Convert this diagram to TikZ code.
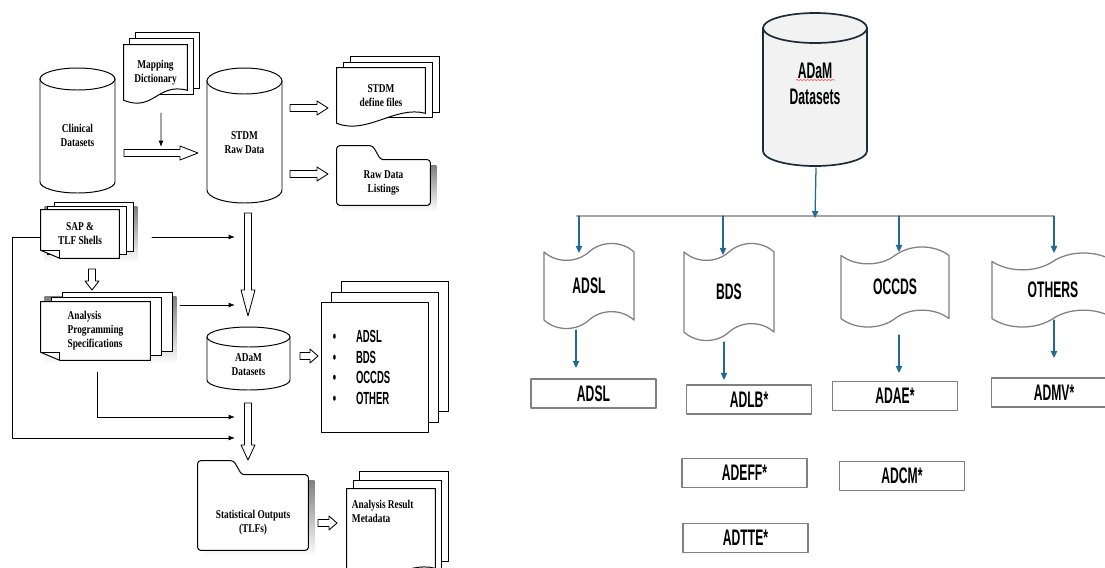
\documentclass[tikz,border=0pt]{standalone}
\usepackage{fontspec}
\setmainfont{Liberation Serif}
\newfontfamily\serifnarrow[FakeStretch=0.78]{Liberation Serif}
\newfontfamily\sansnarrow[FakeStretch=0.54]{Liberation Sans}
\usepackage{tikz}
\usetikzlibrary{arrows.meta,positioning,calc,backgrounds,shapes.symbols,decorations.pathmorphing}
\definecolor{linkblue}{HTML}{236A93}
\definecolor{busgray}{HTML}{A6A6A6}
\definecolor{framegray}{HTML}{808080}
\definecolor{drumfill}{HTML}{F2F2F2}
\definecolor{drumline}{HTML}{1C2B39}
\definecolor{shade}{HTML}{5A5A5A}
\tikzset{
    every picture/.style={line cap=round,line join=round},
    oldtext/.style={font=\serifnarrow\bfseries\fontsize{8.5}{10}\selectfont,align=center},
    newtext/.style={font=\sansnarrow\bfseries\fontsize{16}{19}\selectfont,align=center},
    listtext/.style={font=\sansnarrow\bfseries\fontsize{12.5}{14.5}\selectfont,align=left},
    oldline/.style={draw=black,line width=0.7pt},
    docpage/.style={inner sep=0,oldtext},
    fatline/.style={draw=black,line width=0.6pt,fill=white},
    flowarrow/.style={-{Latex[length=4.5pt,width=3.5pt]},draw=black,line width=0.7pt},
    newdrum/.style={draw=drumline,fill=drumfill,line width=1.2pt},
    tapebox/.style={tape,draw=framegray,fill=white,line width=0.9pt,inner sep=0,
      tape bend top=in and out,tape bend bottom=in and out,tape bend height=12pt,newtext},
    setbox/.style={draw=framegray,line width=1.1pt,fill=white,minimum width=3.125cm,
      minimum height=0.725cm,inner sep=0,newtext},
    linkarrow/.style={-{Triangle[length=5pt,width=4.5pt]},draw=linkblue,line width=0.9pt},
    busline/.style={draw=busgray,line width=1.5pt},
    spellmark/.style={draw=red!60,line width=0.5pt,decorate,
      decoration={snake,amplitude=0.5pt,segment length=2.5pt}}
}
% cylinder round a node: rx, ry, top and bottom offsets from its centre (px)
\newcommand\drumshape[6][oldline,fill=white]{%
  \draw[#1] ([shift={({-#3},{#5+#4})}]#2.center) -- ([shift={({-#3},{#6-#4})}]#2.center)
    arc[start angle=180,end angle=360,x radius=#3*0.025cm,y radius=#4*0.025cm]
    -- ([shift={(#3,{#5+#4})}]#2.center) -- cycle;
  \draw[#1] ([shift={(0,{#5+#4})}]#2.center) ellipse[x radius=#3*0.025cm,y radius=#4*0.025cm];}
% pages behind a node, shifted right by #2 and up by #3
\newcommand\pagestack[3]{%
  \foreach \k in {2,1}
    \draw[oldline,fill=white] ([shift={({\k*#2},{-\k*#3})}]#1.south west)
      rectangle ([shift={({\k*#2},{-\k*#3})}]#1.north east);}
\newcommand\wavefront[1]{%
  \draw[oldline,fill=white] (#1.south west) -- (#1.north west) -- (#1.north east)
    -- ([shift={(0,-10)}]#1.south east)
    .. controls ([shift={(-30,-18)}]#1.south east) and ([shift={(30,12)}]#1.south west) .. (#1.south west) -- cycle;}
\newcommand\earfront[1]{%
  \draw[oldline,fill=white] (#1.north west) -- (#1.north east) -- (#1.south east)
    -- ([shift={(19,0)}]#1.south west) -- ([shift={(0,-8)}]#1.south west) -- cycle;
  \draw[oldline] ([shift={(0,-8)}]#1.south west) -- ([shift={(19,-8)}]#1.south west)
    -- ([shift={(19,0)}]#1.south west);}
\newcommand\stackshadow[3]{%
  \fill[shade] ([shift={(4,4)}]#1.south west) rectangle ([shift={({2*#2+4},{-2*#3+4})}]#1.north east);}
\newcommand\folder[1]{%
  \fill[shade] ([shift={(6,6)}]#1.south west) rectangle ([shift={(6,6)}]#1.north east);
  \draw[oldline,fill=white,rounded corners=2pt] (#1.south west) -- ([shift={(0,-14)}]#1.north west)
    -- ([shift={(36,-14)}]#1.north west) -- ([shift={(44,0)}]#1.north west)
    -- (#1.north east) -- (#1.south east) -- cycle;}
% hollow block arrows
\newcommand\fatright[3]{%
  \coordinate (fa) at #1; \coordinate (fb) at #2;
  \draw[fatline] ([shift={(0,-3.5)}]fa) -- ([shift={(-#3,-3.5)}]fb) -- ([shift={(-#3,-7)}]fb) -- (fb)
    -- ([shift={(-#3,7)}]fb) -- ([shift={(-#3,3.5)}]fb) -- ([shift={(0,3.5)}]fa) -- cycle;}
\newcommand\fatdown[3]{%
  \coordinate (fa) at #1; \coordinate (fb) at #2;
  \draw[fatline] ([shift={(-3.5,0)}]fa) -- ([shift={(-3.5,-#3)}]fb) -- ([shift={(-7,-#3)}]fb) -- (fb)
    -- ([shift={(7,-#3)}]fb) -- ([shift={(3.5,-#3)}]fb) -- ([shift={(3.5,0)}]fa) -- cycle;}

\begin{document}
\begin{tikzpicture}[x=0.025cm,y=-0.025cm]
  \useasboundingbox (0,0) rectangle (1105,567);
  % flow from clinical data to outputs
  \node[docpage,minimum width=1.875cm] (clin) at (77.5,135) {Clinical\\Datasets};
  \node[docpage,minimum width=1.575cm,minimum height=1.375cm] (map) at (155.5,72.5) {Mapping\\Dictionary};
  \node[docpage,minimum width=1.875cm] (stdm) at (244.5,143) {STDM\\Raw Data};
  \node[docpage,minimum width=2.2cm,minimum height=1.375cm] (def) at (381,95.5) {STDM\\define files};
  \node[docpage,minimum width=2.325cm,minimum height=1.125cm] (rdl) at (383.5,182.5) {Raw Data\\Listings};
  \node[docpage,minimum width=1.95cm,minimum height=1.2cm] (sap) at (80,234) {SAP \&\\TLF Shells};
  \node[docpage,minimum width=2.725cm,minimum height=1.45cm,align=left] (aps) at (95.5,331) {Analysis\\Programming\\Specifications};
  \node[docpage,minimum width=2.075cm] (adam) at (248.5,365) {ADaM\\Datasets};
  \node[docpage,oldline,fill=white,listtext,text width=2.1cm,inner xsep=0.275cm,minimum height=3.225cm] (lst) at (375,367.5)
    {\textbullet\hspace{14pt}ADSL\\\textbullet\hspace{14pt}BDS\\\textbullet\hspace{14pt}OCCDS\\\textbullet\hspace{14pt}OTHER};
  \node[docpage,minimum width=2.75cm,minimum height=1.875cm] (tlf) at (253,512.5) {\rule{0pt}{20pt}Statistical Outputs\\(TLFs)};
  \node[docpage,minimum width=2.2cm,minimum height=2.225cm] (arm) at (391,533.5) {};
  \node[oldtext,align=left,anchor=north west,inner sep=0] (armtext) at ([shift={(5,11)}]arm.north west) {Analysis Result\\Metadata};
  \begin{scope}[on background layer]
    \drumshape{clin}{37.5}{11}{-67}{58}
    \drumshape{stdm}{37.5}{13}{-75}{60}
    \drumshape{adam}{41.5}{10}{-38}{25}
    \pagestack{map}{6}{6}\wavefront{map}
    \pagestack{def}{7}{5.5}\wavefront{def}
    \folder{rdl}
    \stackshadow{sap}{7}{3.5}\pagestack{sap}{7}{3.5}\earfront{sap}
    \stackshadow{aps}{11}{4.5}\pagestack{aps}{11}{4.5}\earfront{aps}
    \pagestack{lst}{10}{10.5}
    \folder{tlf}
    \pagestack{arm}{6.5}{8.5}\wavefront{arm}
  \end{scope}
  \coordinate (join) at ([shift={(-83.5,10)}]stdm.center);
  \fatright{([shift={(46.5,18)}]clin.center)}{([shift={(-46.5,10)}]stdm.center)}{18}
  \draw[flowarrow] ([shift={(5.5,40.5)}]map.center) -- ([shift={(0,-6)}]join);
  \fatright{([shift={(45.5,-35)}]stdm.center)}{([shift={(-53,12.5)}]def.center)}{11}
  \fatright{([shift={(45.5,31)}]stdm.center)}{([shift={(-55.5,-8.5)}]rdl.center)}{11}
  \fatdown{([shift={(3.5,70)}]stdm.center)}{([shift={(-0.5,-49)}]adam.center)}{26}
  \fatdown{([shift={(12,35)}]sap.center)}{([shift={(-3.5,-41)}]aps.center)}{9}
  \draw[flowarrow] ([shift={(72,3)}]sap.center) -- ([shift={(-13.5,-128)}]adam.center);
  \draw[flowarrow] ([shift={(84.5,-26)}]aps.center) -- ([shift={(-13.5,-60)}]adam.center);
  \draw[flowarrow] ([shift={(1.5,41)}]aps.center) |- ([shift={(-13.5,52)}]adam.center);
  \draw[flowarrow] ([shift={(0,3)}]sap.west) -- ++(-28,0) |- ([shift={(-13.5,73)}]adam.center);
  \fatdown{([shift={(-0.5,38)}]adam.center)}{([shift={(-5,-52.5)}]tlf.center)}{15}
  \fatright{([shift={(51.5,-9)}]adam.center)}{([shift={(-57,-11.5)}]lst.center)}{8}
  \fatright{([shift={(65,10.5)}]tlf.center)}{([shift={(-54,-10.5)}]arm.center)}{8}

  % ADaM dataset classes
  \node[newtext,inner sep=0,minimum width=2.6cm] (adamR) at (815,84) {ADaM\\Datasets};
  \begin{scope}[on background layer]
    \drumshape[newdrum]{adamR}{52}{15}{-71}{82}
  \end{scope}
  \draw[spellmark] ([shift={(-19,-4)}]adamR.center) -- ([shift={(20,-4)}]adamR.center);
  \node[tapebox,minimum width=2.25cm,minimum height=2.125cm] (adsl) at (589,286) {ADSL};
  \node[tapebox,minimum width=2.25cm,minimum height=2.425cm] (bds) at (729,292) {BDS};
  \node[tapebox,minimum width=2.7cm,minimum height=2cm] (occds) at (895,287) {OCCDS};
  \node[tapebox,minimum width=3.05cm,minimum height=1.85cm] (others) at (1053,290) {OTHERS};
  \node[setbox] (bxadsl) at (593.5,393.5) {ADSL};
  \node[setbox] (bxadlb) at (749,399.5) {ADLB*};
  \node[setbox] (bxadae) at (895,396) {ADAE*};
  \node[setbox] (bxadmv) at (1054,392.5) {ADMV*};
  \node[setbox] (bxadeff) at (744.5,473) {ADEFF*};
  \node[setbox] (bxadcm) at (902,476) {ADCM*};
  \node[setbox] (bxadtte) at (745.5,538) {ADTTE*};
  \coordinate (hub) at ([shift={(0,132)}]adamR.center);
  \draw[busline] ([shift={(-238,0)}]hub) -- ([shift={(238,0)}]hub);
  \draw[linkarrow] ([shift={(1,84)}]adamR.center) -- ([shift={(0,2)}]hub);
  \foreach \t/\dx/\ya/\yb in {adsl/-10/-70/-33,bds/-6/-76/-37,occds/4/-71/-35,others/1/-74/-37}
    \draw[linkarrow] ([shift={(\dx,\ya)}]\t.center) -- ([shift={(\dx,\yb)}]\t.center);
  \draw[linkarrow] ([shift={(-13,44)}]adsl.center) -- ([shift={(-17.5,-25.5)}]bxadsl.center);
  \draw[linkarrow] ([shift={(-5,50)}]bds.center) -- ([shift={(-25,-19.5)}]bxadlb.center);
  \draw[linkarrow] ([shift={(4,48)}]occds.center) -- ([shift={(4,-23)}]bxadae.center);
  \draw[linkarrow] ([shift={(1,30)}]others.center) -- ([shift={(0,-34.5)}]bxadmv.center);
\end{tikzpicture}
\end{document}
